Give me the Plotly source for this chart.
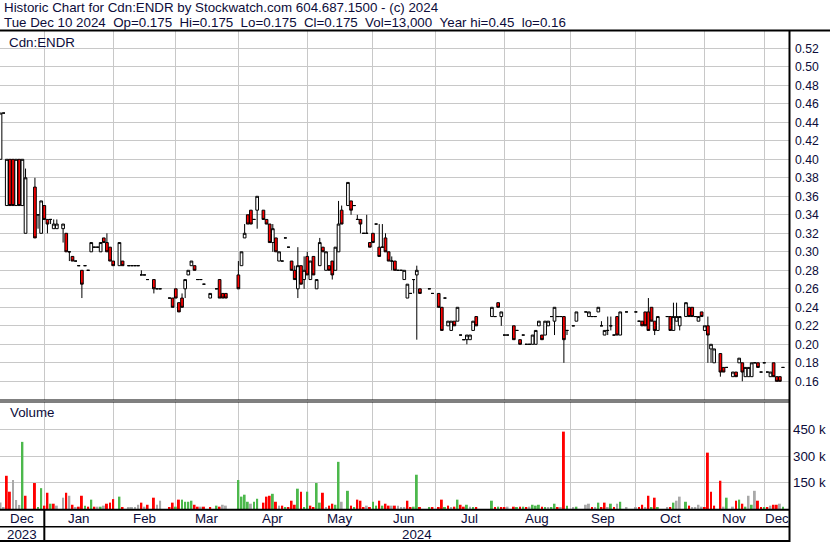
import plotly.graph_objects as go

# ---------------- data (session index = trading day counted from Fri 8 Dec 2023) -------------
sess_dec23 = [0, 1, 2, 3, 4, 5, 6, 7, 8, 11, 12, 13]
sess_jan = [14, 15, 16, 17, 18, 20, 21, 22, 23, 24, 25, 26, 27, 28, 29, 30, 31, 32, 33, 34, 35]
sess_feb = [36, 38, 39, 41, 42, 43, 44, 45, 46, 47, 49, 50, 51, 54, 55]
sess_mar = [56, 57, 58, 59, 60, 61, 62, 63, 64, 65, 67, 69, 70, 71, 72]
sess_apr = [76, 77, 78, 79, 80, 81, 82, 84, 85, 86, 87, 88, 89, 90, 91, 92, 93, 94, 95, 96, 97]
sess_may = [98, 99, 100, 101, 102, 103, 104, 105, 106, 107, 108, 109, 111, 112, 113, 114, 115, 116, 117, 118]
sess_jun = [119, 120, 121, 122, 123, 124, 125, 126, 127, 128, 129, 130, 131, 132, 133, 134, 137, 138]
sess_jul = [140, 141, 142, 143, 144, 145, 146, 147, 148, 149, 150, 151, 152, 157, 158, 159, 160]
sess_aug = [161, 162, 164, 165, 166, 167, 168, 169, 170, 171, 172, 173, 174, 175, 176, 177, 178, 179, 180, 181]
sess_sep = [183, 184, 187, 188, 189, 190, 191, 192, 193, 194, 195, 196, 197, 198, 200]
sess_oct = [203, 204, 205, 206, 207, 208, 209, 210, 213, 214, 215, 216, 217, 219, 220, 221, 222, 223, 224]
sess_nov = [225, 226, 227, 228, 230, 231, 232, 234, 235, 236, 237, 238, 239, 240, 241, 242, 243]
sess_dec24 = [244, 245, 246, 247, 248, 249, 250]

open_ = (
    [.40, .45, .35, .40, .40, .35, .40, .35, .32, .37, .34, .32]
    + [.35, .335, .335, .325, .325, .325, .32, .30, .295, .29, .285, .28, .285, .28, .30, .305, .305, .30, .315, .31, .305]
    + [.29, .285, .29, .285, .285, .285, .285, .275, .275, .27, .27, .26, .26, .25, .25]
    + [.26, .245, .25, .26, .275, .285, .285, .27, .27, .265, .25, .26, .27, .255, .255]
    + [.275, .285, .315, .34, .345, .335, .345, .345, .335, .33, .31, .315, .29, .29, .315, .305, .29, .28, .26, .285, .27]
    + [.295, .27, .295, .26, .285, .305, .28, .285, .29, .28, .30, .345, .35, .355, .35, .335, .335, .32, .32, .31]
    + [.32, .33, .305, .305, .315, .30, .29, .29, .28, .28, .27, .25, .255, .27, .275, .26, .26, .255]
    + [.255, .24, .25, .22, .215, .225, .225, .21, .205, .205, .205, .215, .23, .23, .23, .245, .23]
    + [.21, .21, .22, .215, .205, .21, .20, .20, .20, .20, .22, .21, .21, .22, .23, .225, .23, .23, .23, .215]
    + [.22, .225, .235, .23, .23, .23, .235, .22, .21, .215, .22, .21, .23, .21, .235]
    + [.235, .225, .225, .235, .235, .24, .225, .215, .23, .23, .215, .225, .22, .23, .24, .24, .23, .225, .235]
    + [.215, .22, .195, .18, .19, .175, .175, .165, .17, .18, .18, .165, .165, .165, .18, .18, .17]
    + [.18, .17, .165, .18, .165, .165, .175]
)
high = (
    [.45, .45, .40, .40, .40, .40, .40, .40, .39, .38, .34, .355]
    + [.35, .335, .335, .335, .335, .33, .32, .30, .295, .29, .285, .28, .285, .28, .31, .305, .305, .31, .315, .32, .305]
    + [.29, .31, .29, .285, .285, .285, .285, .28, .275, .27, .27, .26, .26, .25, .25]
    + [.26, .245, .255, .27, .28, .29, .285, .27, .27, .265, .255, .26, .27, .255, .255]
    + [.29, .30, .33, .34, .345, .335, .36, .345, .335, .33, .33, .315, .30, .29, .315, .305, .29, .285, .305, .285, .295]
    + [.30, .29, .295, .27, .315, .305, .30, .285, .29, .305, .355, .35, .375, .355, .35, .34, .335, .32, .34, .31]
    + [.32, .33, .33, .33, .32, .30, .295, .29, .28, .28, .28, .265, .255, .27, .285, .26, .26, .255]
    + [.255, .24, .25, .225, .225, .225, .24, .21, .205, .21, .21, .225, .23, .24, .23, .245, .235]
    + [.21, .21, .22, .215, .205, .21, .20, .20, .21, .215, .225, .21, .225, .225, .23, .24, .23, .23, .23, .215]
    + [.22, .235, .235, .235, .23, .23, .24, .225, .215, .23, .23, .21, .23, .235, .235]
    + [.235, .225, .225, .235, .25, .24, .225, .23, .23, .23, .245, .245, .23, .245, .24, .24, .23, .23, .235]
    + [.22, .23, .20, .195, .19, .175, .175, .17, .17, .185, .18, .175, .175, .18, .18, .18, .17]
    + [.18, .17, .17, .18, .165, .165, .175]
)
low = (
    [.40, .45, .35, .35, .35, .35, .35, .35, .32, .315, .325, .32]
    + [.335, .32, .33, .325, .325, .31, .30, .29, .29, .29, .285, .25, .285, .28, .30, .305, .305, .30, .31, .30, .29]
    + [.285, .285, .285, .285, .285, .285, .285, .275, .275, .27, .255, .26, .26, .25, .24]
    + [.25, .235, .24, .25, .275, .285, .28, .27, .27, .265, .25, .26, .25, .25, .25]
    + [.26, .285, .315, .33, .33, .335, .325, .335, .33, .31, .30, .30, .29, .29, .315, .305, .28, .27, .25, .265, .26]
    + [.275, .27, .275, .26, .285, .30, .28, .28, .27, .28, .30, .33, .35, .34, .35, .335, .32, .32, .32, .305]
    + [.31, .33, .295, .305, .30, .29, .28, .28, .28, .28, .27, .25, .255, .255, .205, .255, .26, .255]
    + [.24, .215, .25, .22, .215, .22, .225, .21, .205, .20, .205, .215, .22, .23, .23, .24, .22]
    + [.21, .21, .205, .215, .20, .21, .20, .20, .20, .20, .22, .205, .21, .22, .23, .21, .23, .23, .18, .21]
    + [.22, .225, .235, .23, .23, .23, .235, .22, .21, .21, .215, .21, .21, .21, .235]
    + [.235, .225, .22, .22, .215, .225, .21, .215, .23, .215, .215, .225, .215, .23, .23, .23, .23, .225, .23]
    + [.215, .18, .18, .18, .165, .17, .175, .165, .165, .18, .16, .165, .165, .165, .18, .175, .17]
    + [.18, .17, .165, .165, .16, .16, .175]
)
close = (
    [.45, .45, .40, .35, .35, .40, .35, .40, .38, .315, .34, .355]
    + [.335, .33, .335, .33, .33, .33, .30, .30, .29, .29, .285, .265, .285, .28, .31, .305, .305, .31, .31, .30, .29]
    + [.285, .31, .285, .285, .285, .285, .285, .275, .275, .27, .26, .26, .26, .25, .24]
    + [.25, .235, .24, .27, .28, .29, .28, .27, .27, .265, .255, .26, .25, .25, .25]
    + [.26, .30, .32, .33, .33, .335, .36, .335, .33, .31, .325, .30, .30, .29, .315, .305, .28, .27, .285, .265, .28]
    + [.275, .29, .275, .27, .31, .30, .30, .28, .275, .305, .33, .33, .375, .345, .35, .335, .33, .32, .32, .305]
    + [.31, .33, .295, .305, .30, .29, .29, .28, .28, .28, .28, .265, .255, .27, .28, .255, .26, .255]
    + [.24, .215, .25, .225, .225, .22, .24, .21, .205, .21, .21, .225, .22, .24, .23, .24, .235]
    + [.21, .21, .205, .215, .20, .21, .20, .20, .21, .215, .225, .205, .225, .225, .23, .24, .23, .23, .205, .215]
    + [.22, .235, .235, .235, .23, .23, .24, .22, .215, .215, .22, .21, .21, .235, .235]
    + [.235, .225, .22, .22, .215, .225, .215, .23, .23, .215, .23, .23, .23, .245, .23, .23, .23, .23, .23]
    + [.22, .21, .20, .195, .17, .17, .175, .17, .165, .185, .17, .175, .175, .18, .18, .175, .17]
    + [.18, .17, .17, .165, .16, .16, .175]
)
# daily volume in thousands of shares
volume_k = (
    [37, 11, 188, 98, 164, 51, 23, 380, 75, 147, 7.5, 118]
    + [19, 92, 30, 30, 19, 64, 92, 75, 24, 7.5, 13, 75, 19, 13, 53, 13, 13, 13, 19, 30, 36]
    + [56, 70, 7.5, 7.5, 7.5, 7.5, 24, 36, 13, 24, 64, 24, 47, 7.5, 36]
    + [13, 53, 53, 41, 41, 47, 24, 13, 13, 13, 7.5, 19, 13, 24, 19]
    + [164, 70, 81, 41, 30, 41, 58, 36, 70, 75, 86, 41, 19, 19, 7.5, 7.5, 47, 24, 115, 98, 7.5]
    + [98, 19, 7.5, 147, 36, 92, 7.5, 19, 30, 24, 267, 41, 103, 19, 7.5, 53, 47, 7.5, 19, 7.5]
    + [41, 19, 47, 19, 30, 19, 19, 19, 19, 7.5, 7.5, 47, 7.5, 13, 194, 7.5, 7.5, 7.5]
    + [7.5, 53, 7.5, 19, 7.5, 13, 53, 24, 13, 24, 13, 7.5, 7.5, 47, 7.5, 13, 7.5]
    + [7.5, 13, 13, 7.5, 13, 13, 7.5, 13, 24, 19, 24, 13, 7.5, 7.5, 7.5, 30, 7.5, 7.5, 438, 19]
    + [7.5, 13, 24, 30, 7.5, 7.5, 36, 7.5, 36, 7.5, 30, 7.5, 30, 41, 7.5]
    + [7.5, 7.5, 24, 7.5, 75, 7.5, 64, 7.5, 7.5, 7.5, 36, 47, 70, 41, 19, 7.5, 7.5, 24, 13]
    + [7.5, 319, 98, 19, 160, 13, 64, 13, 47, 53, 30, 13, 75, 24, 103, 47, 7.5]
    + [7.5, 7.5, 19, 24, 24, 30, 13]
)
# change of close vs previous close: u = up, d = down, n = unchanged
vol_dir = (
    "nnddnnnudduu"
    + "ddudnndndnddududnundd"
    + "dudnnnndnddnndd"
    + "uduuuuddnddudnn"
    + "uuuunuudddudndudddudu"
    + "udduudndduunududddnd"
    + "uududdndnnndduudud"
    + "ddudnduddunududud"
    + "dndududnuuudunuudndu"
    + "nunndnuddnudnun"
    + "nddndudundunnudnnnn"
    + "dddddnundudunundd"
    + "udnddnu"
)

month_names = ["Dec", "Jan", "Feb", "Mar", "Apr", "May", "Jun", "Jul", "Aug", "Sep", "Oct", "Nov", "Dec"]
month_first_session = [14, 36, 56, 76, 98, 119, 139, 161, 182, 203, 225, 244]
year_names = ["2023", "2024"]
price_ticks = [0.16, 0.18, 0.20, 0.22, 0.24, 0.26, 0.28, 0.30, 0.32, 0.34, 0.36,
               0.38, 0.40, 0.42, 0.44, 0.46, 0.48, 0.50, 0.52]
volume_ticks = [150000, 300000, 450000]
volume_tick_text = ["150 k", "300 k", "450 k"]

header_1 = "Historic Chart for Cdn:ENDR by Stockwatch.com 604.687.1500 - (c) 2024"
header_2 = ("Tue Dec 10 2024  Op=0.175  Hi=0.175  Lo=0.175  Cl=0.175  "
            "Vol=13,000  Year hi=0.45  lo=0.16")
symbol = "Cdn:ENDR"

# ---------------- assemble ----------------
sessions = (sess_dec23 + sess_jan + sess_feb + sess_mar + sess_apr + sess_may + sess_jun
            + sess_jul + sess_aug + sess_sep + sess_oct + sess_nov + sess_dec24)
n = len(sessions)
assert len(open_) == n and len(high) == n and len(low) == n and len(close) == n
assert len(volume_k) == n and len(vol_dir) == n, (n, len(volume_k), len(vol_dir))

W, H = 830, 543
PLOT_R = 789.0
X_MIN, X_MAX = -0.16, 251.92
TXT = "#0c0c3a"
GRID = "#c8c8c8"
FONT = "Liberation Sans, Arial, sans-serif"


def py(p):
    return 1 - p / H


def price_at(ypx):
    return 0.52 - (ypx - 48.3) / 925.0


VOL_TOP = (509 - 402) / 26.5 * 150000

col_map = {"u": "#4cb84c", "d": "#ff0000", "n": "#a9a9a9"}
vol_colors = [col_map[d] for d in vol_dir]

fig = go.Figure()
fig.add_trace(go.Candlestick(
    x=sessions, open=open_, high=high, low=low, close=close,
    increasing=dict(line=dict(color="black", width=1), fillcolor="white"),
    decreasing=dict(line=dict(color="black", width=1), fillcolor="#ff0000"),
    whiskerwidth=0, xaxis="x", yaxis="y", hoverinfo="skip", showlegend=False))
fig.add_trace(go.Bar(
    x=sessions, y=[v * 1000 for v in volume_k],
    marker=dict(color=vol_colors, line=dict(width=0)), width=0.62,
    xaxis="x2", yaxis="y2", hoverinfo="skip", showlegend=False))

ax_common = dict(range=[X_MIN, X_MAX], tickvals=month_first_session, showticklabels=False,
                 ticks="", showgrid=True, gridcolor=GRID, gridwidth=1, zeroline=False,
                 showline=False, fixedrange=True)

fig.update_layout(
    width=W, height=H, margin=dict(l=0, r=0, t=0, b=0, pad=0),
    paper_bgcolor="white", plot_bgcolor="white", showlegend=False,
    boxgap=0.14, boxgroupgap=0,
    font=dict(family=FONT, size=13.33, color=TXT),
    xaxis=dict(domain=[0, PLOT_R / W], anchor="y", rangeslider=dict(visible=False), **ax_common),
    xaxis2=dict(domain=[0, PLOT_R / W], anchor="y2", matches="x", **ax_common),
    yaxis=dict(domain=[py(400), py(31)], range=[price_at(400), price_at(31)], side="right",
               anchor="x", tickvals=price_ticks, ticktext=[f"{t:.2f}" for t in price_ticks],
               tickfont=dict(size=12.2, color=TXT, family=FONT), showgrid=True, gridcolor=GRID,
               gridwidth=1, zeroline=False, showline=False, ticks="", ticklabelstandoff=5,
               fixedrange=True),
    yaxis2=dict(domain=[py(509), py(402)], range=[0, VOL_TOP], side="right", anchor="x2",
                tickvals=volume_ticks, ticktext=volume_tick_text,
                tickfont=dict(size=13.33, color=TXT, family=FONT), showgrid=True, gridcolor=GRID,
                gridwidth=1, zeroline=False, showline=False, ticks="", ticklabelstandoff=3,
                fixedrange=True),
)

ann = []
nb = lambda s: s.replace("  ", "\u00a0\u00a0")
ann.append(dict(text=header_1, x=2 / W, y=py(8), xref="paper", yref="paper",
                xanchor="left", yanchor="middle", showarrow=False))
ann.append(dict(text=nb(header_2), x=2 / W, y=py(22.5), xref="paper", yref="paper",
                xanchor="left", yanchor="middle", showarrow=False))
ann.append(dict(text=symbol, x=7 / W, y=py(42.5), xref="paper", yref="paper",
                xanchor="left", yanchor="middle", showarrow=False))
ann.append(dict(text="Volume", x=8 / W, y=py(413), xref="paper", yref="paper",
                xanchor="left", yanchor="middle", showarrow=False))
bounds = [X_MIN] + month_first_session + [X_MAX]
for k, name in enumerate(month_names):
    ann.append(dict(text=name, x=(bounds[k] + bounds[k + 1]) / 2, y=py(518.5), xref="x",
                    yref="paper", xanchor="center", yanchor="middle", showarrow=False))
ann.append(dict(text=year_names[0], x=(X_MIN + month_first_session[0]) / 2, y=py(534),
                xref="x", yref="paper", xanchor="center", yanchor="middle", showarrow=False))
ann.append(dict(text=year_names[1], x=(month_first_session[0] + X_MAX) / 2, y=py(534),
                xref="x", yref="paper", xanchor="center", yanchor="middle", showarrow=False))
fig.update_layout(annotations=ann)

shp = []


def hline(ypx, x0, x1, w):
    shp.append(dict(type="line", xref="paper", yref="paper", x0=x0 / W, x1=x1 / W,
                    y0=py(ypx), y1=py(ypx), line=dict(color="black", width=w), layer="above"))


hline(30.5, 0, W, 2)
hline(400.0, 0, PLOT_R, 1)
hline(402.0, 0, PLOT_R, 1)
hline(509.8, 0, PLOT_R, 2)
hline(526.8, 0, PLOT_R, 1.5)
hline(541.0, 0, PLOT_R + 1, 2)
shp.append(dict(type="line", xref="paper", yref="paper", x0=(PLOT_R + 0.5) / W, x1=(PLOT_R + 0.5) / W,
                y0=py(542), y1=py(30), line=dict(color="black", width=2), layer="above"))
shp.append(dict(type="line", xref="x", yref="paper", x0=month_first_session[0], x1=month_first_session[0],
                y0=py(541), y1=py(510), line=dict(color="black", width=2), layer="above"))
fig.update_layout(shapes=shp)

fig.write_html("out.html", config={"displayModeBar": False},
               post_script="document.body.style.margin='0px';document.body.style.padding='0px';")
